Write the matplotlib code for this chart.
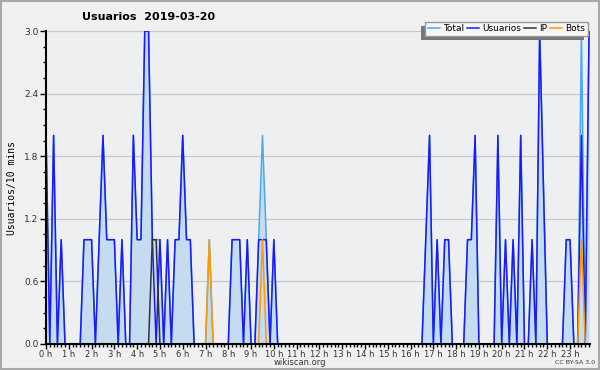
import matplotlib
matplotlib.use('Agg')
import matplotlib.pyplot as plt
from matplotlib.patches import Rectangle
from matplotlib.transforms import IdentityTransform
from matplotlib.ticker import MultipleLocator
import numpy as np

# valores por tramo de 10 minutos (144 tramos)
usuarios = np.zeros(144)
total = np.zeros(144)
ip = np.zeros(144)
bots = np.zeros(144)

usuarios_pts = {0: 2, 2: 2, 4: 1, 10: 1, 11: 1, 12: 1, 14: 1, 15: 2, 16: 1, 17: 1, 18: 1,
                20: 1, 23: 2, 24: 1, 25: 1, 26: 3, 27: 3, 28: 1, 30: 1, 32: 1, 34: 1,
                35: 1, 36: 2, 37: 1, 38: 1, 49: 1, 50: 1, 51: 1, 53: 1, 56: 1, 57: 1,
                58: 1, 60: 1, 100: 1, 101: 2, 103: 1, 105: 1, 106: 1, 111: 1, 112: 1,
                113: 2, 119: 2, 121: 1, 123: 1, 125: 2, 128: 1, 130: 3, 131: 1.5,
                137: 1, 138: 1, 141: 2, 143: 3}
ip_pts = {28: 1, 29: 1}
bots_pts = {43: 1, 57: 1, 141: 1}

for k, v in usuarios_pts.items():
    usuarios[k] = v
for k, v in ip_pts.items():
    ip[k] = v
for k, v in bots_pts.items():
    bots[k] = v
total = usuarios + ip + bots
total[28] = 1

x = np.arange(144)
hours = np.arange(24)
hour_labels = [f'{h} h' for h in hours]

fig = plt.figure(figsize=(6, 3.7), dpi=100, facecolor='#f0f0f0')
ax = fig.add_axes([0.0767, 0.0703, 0.9063, 0.8457])
ax.set_facecolor('#eeeff1')

ax.fill_between(x, 0, total, color='#c5dcf0', lw=0, zorder=1)
ax.plot(x, total, color='#4aa8f5', lw=1.1, zorder=2, label='Total')
ax.plot(x, usuarios, color='#1a1aff', lw=1.1, zorder=3, label='Usuarios')
ax.plot(x, ip, color='#333333', lw=1.1, zorder=4, label='IP')
ax.plot(x, bots, color='#ff9900', lw=1.1, zorder=4, label='Bots')

ax.set_xlim(0, 143.2)
ax.set_ylim(0, 3.0)
ax.set_yticks([0, 0.6, 1.2, 1.8, 2.4, 3.0])
ax.yaxis.set_minor_locator(MultipleLocator(0.15))
ax.set_yticklabels(['0.0', '0.6', '1.2', '1.8', '2.4', '3.0'])
ax.set_xticks(hours * 6)
ax.set_xticklabels(hour_labels)
ax.xaxis.set_minor_locator(MultipleLocator(1))
ax.grid(axis='y', color='#c8c8c8', lw=0.9, zorder=0)
ax.set_axisbelow(True)

for s in ['top', 'right']:
    ax.spines[s].set_visible(False)
for s in ['left', 'bottom']:
    ax.spines[s].set_color('black')
    ax.spines[s].set_linewidth(1.5)
    ax.spines[s].set_zorder(6)
ax.tick_params(axis='y', which='major', labelsize=6.5, colors='black', labelcolor='#333333',
               length=4, width=1, pad=1.5)
ax.tick_params(axis='x', which='major', labelsize=6, colors='black', labelcolor='#333333',
               length=3.5, width=1, pad=0.5)
ax.tick_params(axis='both', which='minor', length=2.5, width=1)

ax.set_ylabel('Usuarios/10 mins', family='DejaVu Sans Mono', fontsize=7, labelpad=5)

fig.text(0.247, 0.955, 'Usuarios  2019-03-20', ha='center', va='center',
         fontsize=8, fontweight='bold')
fig.text(0.5, 0.02, 'wikiscan.org', ha='center', va='center', fontsize=6, color='#333333')
fig.text(0.958, 0.02, 'CC BY-SA 3.0', ha='center', va='center', fontsize=4.5, color='#333333')

leg = ax.legend(loc='upper right', bbox_to_anchor=(1.005, 1.045), ncol=4, fontsize=6.5,
                handlelength=1.3, handletextpad=0.4, columnspacing=0.3, borderpad=0.3,
                frameon=True, fancybox=False, facecolor='#f6f6f6', edgecolor='#999999',
                framealpha=1)
leg.get_frame().set_linewidth(1)
leg.set_zorder(10)

fig.canvas.draw()
bb = leg.get_window_extent()
ax.add_patch(Rectangle((bb.x0 - 4, bb.y0 - 4), bb.width, bb.height, transform=IdentityTransform(),
                       facecolor='#777777', edgecolor='none', clip_on=False, zorder=9))

fig.add_artist(Rectangle((0.001, 0.002), 0.997, 0.995, transform=fig.transFigure,
                         fill=False, edgecolor='#a8a8a8', lw=1.5))

fig.savefig('out.png', dpi=100, facecolor=fig.get_facecolor())
